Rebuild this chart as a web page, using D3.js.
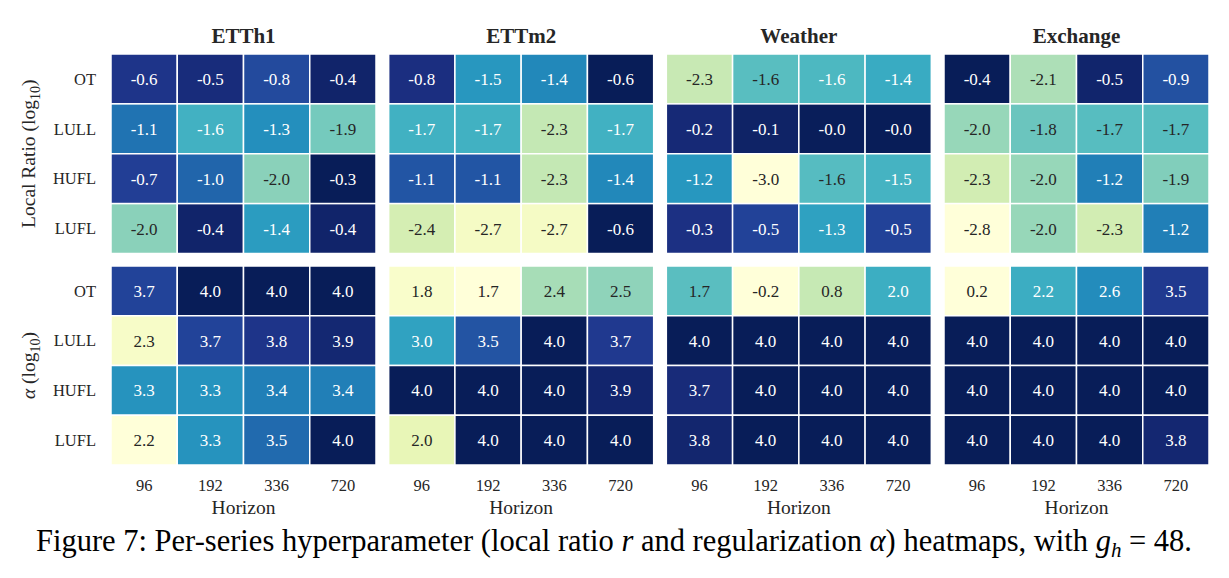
<!DOCTYPE html>
<html lang="en">
<head>
  <meta charset="UTF-8" />
  <title>Per-series hyperparameter heatmaps</title>
  <style>
    body { margin: 0; background: #fff; }
    svg { display: block; }
    text { font-family: "Liberation Serif", "Times New Roman", serif; fill: #262626; }
  </style>
</head>
<body>
  <svg width="1229" height="578"></svg>

  <script src="https://d3js.org/d3.v7.min.js"></script>
  <script>
    // Datasets, series (rows) and horizons (columns)
    const datasets = ['ETTh1', 'ETTm2', 'Weather', 'Exchange'];
    const seriesNames = ['OT', 'LULL', 'HUFL', 'LUFL'];
    const horizons = ['96', '192', '336', '720'];

    // Local ratio (log10), rows = series, cols = horizons
    const ratioETTh1 = [[-0.6, -0.5, -0.8, -0.4], [-1.1, -1.6, -1.3, -1.9], [-0.7, -1.0, -2.0, -0.3], [-2.0, -0.4, -1.4, -0.4]];
    const ratioETTm2 = [[-0.8, -1.5, -1.4, -0.6], [-1.7, -1.7, -2.3, -1.7], [-1.1, -1.1, -2.3, -1.4], [-2.4, -2.7, -2.7, -0.6]];
    const ratioWeather = [[-2.3, -1.64, -1.56, -1.4], [-0.2, -0.1, -0.02, -0.01], [-1.2, -3.0, -1.62, -1.5], [-0.3, -0.5, -1.3, -0.5]];
    const ratioExchange = [[-0.4, -2.1, -0.5, -0.9], [-2.0, -1.8, -1.7, -1.7], [-2.3, -2.0, -1.2, -1.9], [-2.8, -2.0, -2.3, -1.2]];

    // Regularization alpha (log10)
    const alphaETTh1 = [[3.7, 4.0, 4.0, 4.0], [2.3, 3.7, 3.8, 3.9], [3.3, 3.3, 3.4, 3.4], [2.2, 3.3, 3.5, 4.0]];
    const alphaETTm2 = [[1.8, 1.7, 2.4, 2.5], [3.0, 3.5, 4.0, 3.7], [4.0, 4.0, 4.0, 3.9], [2.0, 4.0, 4.0, 4.0]];
    const alphaWeather = [[1.7, -0.2, 0.8, 2.0], [4.0, 4.0, 4.0, 4.0], [3.7, 4.0, 4.0, 4.0], [3.8, 4.0, 4.0, 4.0]];
    const alphaExchange = [[0.2, 2.2, 2.6, 3.5], [4.0, 4.0, 4.0, 4.0], [4.0, 4.0, 4.0, 4.0], [4.0, 4.0, 4.0, 3.8]];

    // colour limits used for the local ratio panels
    const ratioLimits = [[-2.95, -0.3], [-2.85, -0.6], [-3.0, -0.01], [-2.8, -0.4]];

    const ratioData = [ratioETTh1, ratioETTm2, ratioWeather, ratioExchange];
    const alphaData = [alphaETTh1, alphaETTm2, alphaWeather, alphaExchange];

    const svg = d3.select('svg');

    // panel positions
    const panelX = d3.scaleBand().domain(datasets).range([111, 1209]).paddingInner(0.0456);
    const colX = d3.scaleBand().domain(horizons).range([0, panelX.bandwidth()]);
    const topY = d3.scaleBand().domain(seriesNames).range([54, 253.5]);
    const botY = d3.scaleBand().domain(seriesNames).range([266, 465]);

    // seaborn-style annotation colour: dark on light cells, white on dark ones
    function lum(c) {
      const rgb = d3.rgb(c);
      const f = v => { v /= 255; return v <= 0.03928 ? v / 12.92 : Math.pow((v + 0.055) / 1.055, 2.4); };
      return 0.2126 * f(rgb.r) + 0.7152 * f(rgb.g) + 0.0722 * f(rgb.b);
    }

    function drawHeat(parent, matrix, yScale, domain) {
      const g = parent.append('g');
      const color = d3.scaleSequential(d3.interpolateYlGnBu).domain(domain).clamp(true);
      const cells = [];
      matrix.forEach((row, i) => row.forEach((v, j) => cells.push({ s: seriesNames[i], h: horizons[j], v })));

      g.selectAll('rect').data(cells).enter().append('rect')
        .attr('x', d => colX(d.h))
        .attr('y', d => yScale(d.s))
        .attr('width', colX.bandwidth())
        .attr('height', yScale.bandwidth())
        .attr('fill', d => color(d.v))
        .attr('stroke', '#fff')
        .attr('stroke-width', 1.5);

      g.selectAll('text').data(cells).enter().append('text')
        .attr('x', d => colX(d.h) + colX.bandwidth() / 2)
        .attr('y', d => yScale(d.s) + yScale.bandwidth() / 2)
        .attr('dy', '0.35em')
        .attr('text-anchor', 'middle')
        .style('font-size', '17px')
        .style('fill', d => lum(color(d.v)) > 0.408 ? '#262626' : '#ffffff')
        .text(d => d.v.toFixed(1));
    }

    datasets.forEach((name, k) => {
      const g = svg.append('g').attr('transform', `translate(${panelX(name)},0)`);

      g.append('text')
        .attr('x', panelX.bandwidth() / 2)
        .attr('y', 43)
        .attr('text-anchor', 'middle')
        .style('font-size', '21px')
        .style('font-weight', 'bold')
        .text(name);

      drawHeat(g, ratioData[k], topY, ratioLimits[k]);
      drawHeat(g, alphaData[k], botY, d3.extent(alphaData[k].flat()));

      // horizon ticks
      g.selectAll('text.xt').data(horizons).enter().append('text')
        .attr('class', 'xt')
        .attr('x', d => colX(d) + colX.bandwidth() / 2)
        .attr('y', 491)
        .attr('text-anchor', 'middle')
        .style('font-size', '16.5px')
        .text(d => d);

      g.append('text')
        .attr('x', panelX.bandwidth() / 2)
        .attr('y', 514)
        .attr('text-anchor', 'middle')
        .style('font-size', '19.5px')
        .text('Horizon');
    });

    // row labels on the left
    [topY, botY].forEach(ys => {
      svg.append('g').selectAll('text').data(seriesNames).enter().append('text')
        .attr('x', 96)
        .attr('y', d => ys(d) + ys.bandwidth() / 2)
        .attr('dy', '0.35em')
        .attr('text-anchor', 'end')
        .style('font-size', '16.5px')
        .text(d => d);
    });

    // y-axis titles
    const yl1 = svg.append('text')
      .attr('transform', `translate(35,${(topY.range()[0] + topY.range()[1]) / 2}) rotate(-90)`)
      .attr('text-anchor', 'middle')
      .style('font-size', '19.5px');
    yl1.append('tspan').text('Local Ratio (log');
    yl1.append('tspan').attr('dy', 5).style('font-size', '14px').text('10');
    yl1.append('tspan').attr('dy', -5).text(')');

    const yl2 = svg.append('text')
      .attr('transform', `translate(35,${(botY.range()[0] + botY.range()[1]) / 2}) rotate(-90)`)
      .attr('text-anchor', 'middle')
      .style('font-size', '19.5px');
    yl2.append('tspan').style('font-style', 'italic').text('α');
    yl2.append('tspan').text(' (log');
    yl2.append('tspan').attr('dy', 5).style('font-size', '14px').text('10');
    yl2.append('tspan').attr('dy', -5).text(')');

    // caption
    const cap = svg.append('text')
      .attr('x', 614)
      .attr('y', 551)
      .attr('text-anchor', 'middle')
      .style('font-size', '30.5px')
      .style('fill', '#000');
    cap.append('tspan').text('Figure 7: Per-series hyperparameter (local ratio ');
    cap.append('tspan').style('font-style', 'italic').text('r');
    cap.append('tspan').text(' and regularization ');
    cap.append('tspan').style('font-style', 'italic').text('α');
    cap.append('tspan').text(') heatmaps, with ');
    cap.append('tspan').style('font-style', 'italic').text('g');
    cap.append('tspan').attr('dy', 6).style('font-style', 'italic').style('font-size', '21px').text('h');
    cap.append('tspan').attr('dy', -6).text(' = 48.');
  </script>
</body>
</html>
